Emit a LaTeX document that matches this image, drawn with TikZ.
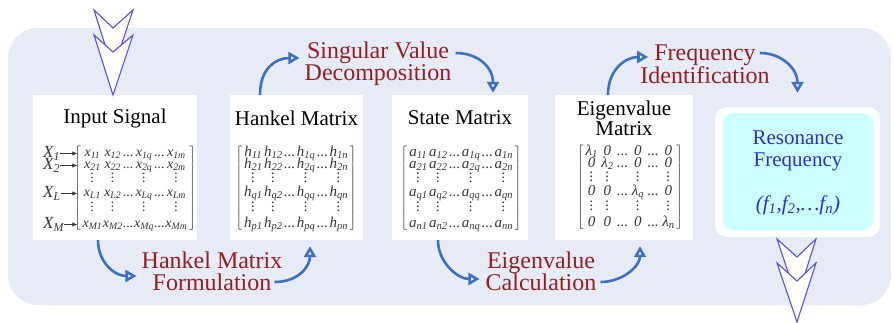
\documentclass[tikz,border=0pt]{standalone}
\usepackage{fontspec}
\setmainfont{Liberation Serif}
\usetikzlibrary{arrows.meta,matrix}
\definecolor{panel}{RGB}{230,235,246}
\definecolor{redl}{RGB}{150,30,35}
\definecolor{bluea}{RGB}{60,112,192}
\definecolor{chev}{RGB}{80,80,250}
\definecolor{resb}{RGB}{45,45,215}
\definecolor{cyanf}{RGB}{204,255,255}
\definecolor{mgray}{RGB}{55,55,55}
\newcommand\ix[1]{\textsubscript{#1}}
\newcommand\vd{\vbox{\baselineskip4pt\lineskiplimit0pt\hbox{.}\hbox{.}\hbox{.}}}
\tikzset{
 wbox/.style={fill=white, draw=none, inner sep=0pt},
 ttl/.style={font=\fontsize{21}{20}\selectfont, align=center, text=black, inner sep=0pt},
 redlab/.style={font=\fontsize{24}{22}\selectfont, text=redl, align=center, inner sep=0pt},
 flow/.style={draw=bluea, line width=2.6pt, -{Triangle[length=11pt,width=12pt,fill=white]}},
 mfont/.style={font=\fontsize{#1}{#1}\selectfont\itshape},
 mat/.style={matrix of nodes, inner sep=0pt, nodes={mfont=15, inner sep=0pt, text height=9pt, text depth=3pt, text=mgray}, column sep=1.5pt, row sep=0pt, left delimiter={[}, right delimiter={]}},
 every delimiter/.style={text=mgray, inner sep=0.5pt},
 chevron/.style={draw=chev, fill=white, line width=1.1pt, line join=miter},
 xlab/.style={font=\fontsize{17}{17}\selectfont\itshape, text=mgray, inner sep=0pt, anchor=west},
 sarr/.style={draw=mgray, line width=0.9pt, -{Latex[length=5pt,width=4.5pt]}},
}
\begin{document}
\begin{tikzpicture}[x=1pt,y=-1pt]
\useasboundingbox (0,0) rectangle (894,322);
\fill[panel, rounded corners=30pt] (8,28) rectangle (891,305);

% boxes
\node[wbox, minimum width=164pt, minimum height=145pt] (inp) at (115,167.5) {};
\node[wbox, minimum width=133pt, minimum height=145pt] (hank) at (296.5,167.5) {};
\node[wbox, minimum width=136pt, minimum height=145pt] (state) at (460,167.5) {};
\node[wbox, minimum width=138pt, minimum height=145pt] (eig) at (624,167.5) {};
\node[fill=white, rounded corners=12pt, minimum width=165pt, minimum height=130pt, inner sep=0pt] (resout) at (797.5,172) {};
\node[fill=cyanf, rounded corners=10pt, minimum width=150pt, minimum height=117pt, inner sep=0pt] (res) at (798,171.5) {};

% titles
\node[ttl] (tinp) at (115,118) {Input Signal};
\node[ttl] (thank) at (296.5,118) {Hankel Matrix};
\node[ttl] (tstate) at (460,118) {State Matrix};
\node[ttl] (teig) at (624,118) {Eigenvalue\\Matrix};

% matrices
\matrix (mi) at (135,189) [mat, column sep=0.5pt, nodes={mfont=14}] {
x\ix{11} & x\ix{12} & ... & x\ix{1q} & ... & x\ix{1m} \\
x\ix{21} & x\ix{22} & ... & x\ix{2q} & ... & x\ix{2m} \\[2pt]
\vd & \vd & & \vd & & \vd \\[2pt]
x\ix{L1} & x\ix{L2} & ... & x\ix{Lq} & ... & x\ix{Lm} \\[3pt]
\vd & \vd & & \vd & & \vd \\[4pt]
x\ix{M1} & x\ix{M2} & ... & x\ix{Mq} & ... & x\ix{Mm} \\
};
\matrix (mh) at (296,189) [mat] {
h\ix{11} & h\ix{12} & ... & h\ix{1q} & ... & h\ix{1n} \\
h\ix{21} & h\ix{22} & ... & h\ix{2q} & ... & h\ix{2n} \\[2pt]
\vd & \vd & & \vd & & \vd \\[2pt]
h\ix{q1} & h\ix{q2} & ... & h\ix{qq} & ... & h\ix{qn} \\[3pt]
\vd & \vd & & \vd & & \vd \\[4pt]
h\ix{p1} & h\ix{p2} & ... & h\ix{pq} & ... & h\ix{pn} \\
};
\matrix (ms) at (461,189) [mat] {
a\ix{11} & a\ix{12} & ... & a\ix{1q} & ... & a\ix{1n} \\
a\ix{21} & a\ix{22} & ... & a\ix{2q} & ... & a\ix{2n} \\[2pt]
\vd & \vd & & \vd & & \vd \\[2pt]
a\ix{q1} & a\ix{q2} & ... & a\ix{qq} & ... & a\ix{qn} \\[3pt]
\vd & \vd & & \vd & & \vd \\[4pt]
a\ix{n1} & a\ix{n2} & ... & a\ix{nq} & ... & a\ix{nn} \\
};
\matrix (me) at (630,188) [mat, column sep=3.5pt] {
λ\ix{1} & 0 & ... & 0 & ... & 0 \\
0 & λ\ix{2} & ... & 0 & ... & 0 \\[2pt]
\vd & \vd & & \vd & & \vd \\[2pt]
0 & 0 & ... & λ\ix{q} & ... & 0 \\[3pt]
\vd & \vd & & \vd & & \vd \\[4pt]
0 & 0 & ... & 0 & ... & λ\ix{n} \\
};

% input labels
\coordinate (labx) at (43,0);
\coordinate (brkx) at ([xshift=-5pt]mi.west);
\node[xlab] (x1) at (mi-1-1 -| labx) {X\ix{1}};
\node[xlab] (x2) at (mi-2-1 -| labx) {X\ix{2}};
\node[xlab] (xL) at (mi-4-1 -| labx) {X\ix{L}};
\node[xlab] (xM) at (mi-6-1 -| labx) {X\ix{M}};
\draw[sarr] (x1.east) -- (mi-1-1 -| brkx);
\draw[sarr] (x2.east) -- (mi-2-1 -| brkx);
\draw[sarr] (xL.east) -- (mi-4-1 -| brkx);
\draw[sarr] (xM.east) -- (mi-6-1 -| brkx);

% resonance text
\node[font=\fontsize{21}{22}\selectfont, text=resb, align=center, inner sep=0pt] (rtxt) at (798,151) {Resonance\\Frequency};
\node[font=\fontsize{21}{22}\selectfont\itshape, text=resb, inner sep=0pt] (rf) at (798,205) {(f\ix{1},f\ix{2},…f\ix{n})};

% red labels
\node[redlab] (svd) at (378,64) {Singular Value\\Decomposition};
\node[redlab] (hmf) at (212,271) {Hankel Matrix\\Formulation};
\node[redlab] (eic) at (541,271) {Eigenvalue\\Calculation};
\node[redlab] (fid) at (705,64) {Frequency\\Identification};

% flow arrows
\draw[flow] ([xshift=-36.5pt]hank.north) .. controls +(0,-26) and +(-24,0) .. ([xshift=-5pt,yshift=6pt]svd.west);
\draw[flow] ([xshift=4pt,yshift=11pt]svd.east) .. controls +(22,0) and +(0,-26) .. ([xshift=33pt,yshift=2pt]state.north);
\draw[flow] ([xshift=-17pt]inp.south) .. controls +(0,22) and +(-22,0) .. ([xshift=-5pt,yshift=-5pt]hmf.west);
\draw[flow] ([xshift=-8pt,yshift=-11pt]hmf.east) .. controls +(24,0) and +(0,20) .. ([xshift=13.5pt,yshift=-6pt]hank.south);
\draw[flow] ([xshift=-22pt]state.south) .. controls +(0,22) and +(-22,0) .. ([xshift=-6pt,yshift=-8pt]eic.west);
\draw[flow] ([xshift=4pt,yshift=-11pt]eic.east) .. controls +(22,0) and +(0,20) .. ([xshift=16pt,yshift=-6pt]eig.south);
\draw[flow] ([xshift=-16pt]eig.north) .. controls +(0,-26) and +(-22,0) .. ([xshift=8pt,yshift=7pt]fid.west);
\draw[flow] ([xshift=-10pt,yshift=11pt]fid.east) .. controls +(22,0) and +(0,-24) .. ([yshift=14pt]resout.north);

% chevrons
\draw[chevron] (94,10) -- (113,28) -- (133,10) -- (113,70) -- cycle;
\draw[chevron] (94,35) -- (113,52) -- (133,35) -- (113,95) -- cycle;
\draw[chevron] (777,239) -- (797,257) -- (816,239) -- (797,299) -- cycle;
\draw[chevron] (777,263) -- (797,281) -- (816,263) -- (797,322) -- cycle;
\end{tikzpicture}
\end{document}
